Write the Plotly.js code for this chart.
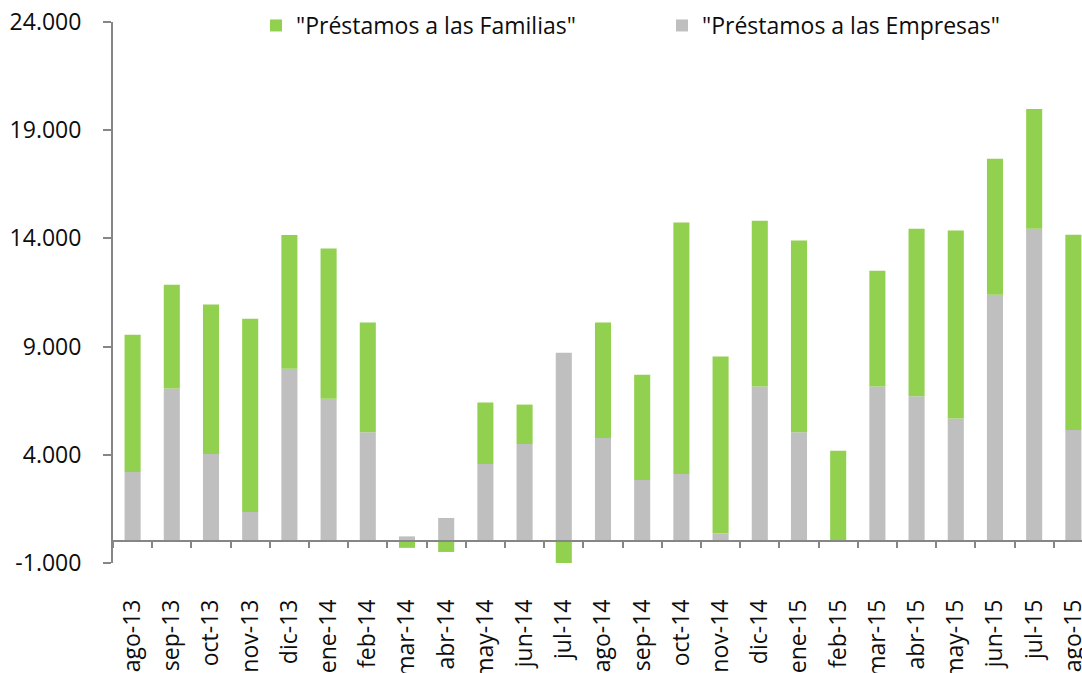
<!DOCTYPE html>
<html>
<head>
<meta charset="utf-8">
<script src="https://cdn.plot.ly/plotly-3.0.1.min.js"></script>
<style>
  html, body { margin: 0; padding: 0; overflow: hidden; background: #ffffff; }
  #chart { width: 1082px; height: 673px; }
</style>
</head>
<body>
<div id="chart"></div>
<script>
const categories = ['ago-13','sep-13','oct-13','nov-13','dic-13','ene-14','feb-14','mar-14','abr-14','may-14','jun-14','jul-14','ago-14','sep-14','oct-14','nov-14','dic-14','ene-15','feb-15','mar-15','abr-15','may-15','jun-15','jul-15','ago-15'];
const empresas = [3210, 7060, 4040, 1360, 7980, 6590, 5040, 230, 1080, 3580, 4500, 8720, 4780, 2840, 3110, 360, 7160, 5040, 0, 7160, 6700, 5680, 11400, 14450, 5150];
const familias = [6340, 4800, 6900, 8930, 6180, 6940, 5070, -300, -490, 2840, 1820, -1060, 5330, 4860, 11620, 8180, 7650, 8860, 4190, 5350, 7750, 8680, 6280, 5530, 9020];
const yTickVals = [-1000, 4000, 9000, 14000, 19000, 24000];
const yTickText = ['-1.000', '4.000', '9.000', '14.000', '19.000', '24.000'];
const seriesNames = ['"Préstamos a las Empresas"', '"Préstamos a las Familias"'];

const FONT = '"Open Sans", Lato, sans-serif';
const AXIS_GREY = '#868686';

const traces = [
  {
    type: 'bar', name: seriesNames[0], x: categories, y: empresas,
    marker: { color: '#BFBFBF' }, legendrank: 2, hoverinfo: 'skip'
  },
  {
    type: 'bar', name: seriesNames[1], x: categories, y: familias,
    marker: { color: '#92D050' }, legendrank: 1, hoverinfo: 'skip'
  }
];

const layout = {
  width: 1082, height: 673,
  margin: { l: 113, r: 0, t: 22, b: 110, pad: 0, autoexpand: false },
  paper_bgcolor: '#ffffff', plot_bgcolor: '#ffffff',
  barmode: 'relative', bargap: 0.59,
  font: { family: FONT, color: '#0d0d0d' },
  showlegend: true,
  legend: {
    orientation: 'h', xref: 'container', yref: 'container',
    x: 256 / 1082, xanchor: 'left', y: 1 - 4 / 673, yanchor: 'top',
    entrywidth: 361, entrywidthmode: 'pixels',
    font: { family: FONT, size: 23, color: '#0d0d0d' },
    bgcolor: 'rgba(0,0,0,0)'
  },
  xaxis: {
    type: 'category', range: [-0.5, 24.22],
    anchor: 'free', position: 0.04,
    showline: true, linecolor: AXIS_GREY, linewidth: 2,
    ticks: 'outside', tickson: 'boundaries', ticklen: 6, tickwidth: 2, tickcolor: AXIS_GREY,
    tickangle: -90, ticklabelstandoff: 48,
    tickfont: { family: FONT, size: 23, color: '#0d0d0d' },
    showgrid: false, zeroline: false, automargin: false, fixedrange: true
  },
  yaxis: {
    range: [-1000, 24000],
    tickmode: 'array', tickvals: yTickVals, ticktext: yTickText,
    showline: true, linecolor: AXIS_GREY, linewidth: 2,
    ticks: 'outside', ticklen: 8, tickwidth: 2, tickcolor: AXIS_GREY,
    ticklabelstandoff: 17,
    tickfont: { family: FONT, size: 23, color: '#0d0d0d' },
    showgrid: false, zeroline: false, automargin: false, fixedrange: true
  }
};

Plotly.newPlot('chart', traces, layout, { staticPlot: true, displayModeBar: false });
</script>
</body>
</html>
